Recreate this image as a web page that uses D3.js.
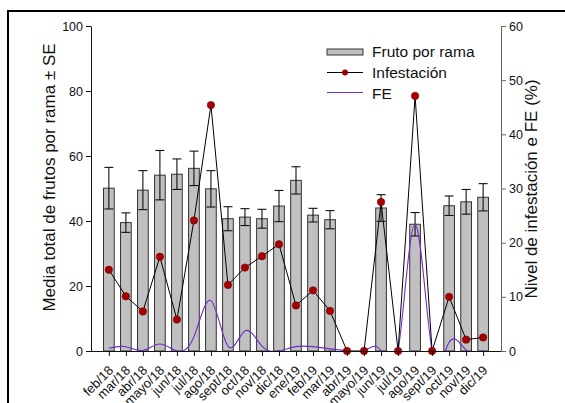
<!DOCTYPE html>
<html>
<head>
<meta charset="utf-8">
<script src="https://cdn.jsdelivr.net/npm/d3@7"></script>
<style>
  html, body { margin: 0; padding: 0; background: #fff; }
  svg { display: block; font-family: "Liberation Sans", Arial, sans-serif; }
</style>
</head>
<body>
<svg id="chart" width="565" height="403"></svg>
<script>
// Monthly sampling dates
const months = ["feb/18","mar/18","abr/18","mayo/18","jun/18","jul/18","ago/18","sept/18","oct/18","nov/18","dic/18",
                "ene/19","feb/19","mar/19","abr/19","mayo/19","jun/19","jul/19","ago/19","sept/19","oct/19","nov/19","dic/19"];
// Mean fruits per branch (left axis) and standard error
const fruto = [50.1,39.5,49.5,54.1,54.4,56.2,49.9,40.7,41.2,40.7,44.6,52.5,41.8,40.4,null,null,44.0,null,39.0,null,44.7,45.9,47.3];
const frutoSE = [6.4,3.0,6.0,7.6,4.7,5.3,5.6,3.7,2.6,2.9,4.8,4.2,2.1,2.8,null,null,4.1,null,3.6,null,3.0,3.8,4.2];
// Infestation level, % (right axis)
const infestacion = [15.0,10.1,7.3,17.4,5.8,24.1,45.4,12.2,15.4,17.5,19.7,8.4,11.2,7.4,0,0,27.5,0,47.1,0,10.0,2.1,2.5];
// FE, % (right axis)
const fe = [0.5,0.8,0.1,1.3,0,2.6,9.3,0.9,3.7,0.9,0,0.8,0.8,0.4,0,0,0,0,23.4,0,1.6,0.2,0.1];
const leftTicks = [0,20,40,60,80,100];
const rightTicks = [0,10,20,30,40,50,60];

const svg = d3.select("#chart");
const X0 = 91, X1 = 501, Y0 = 351, Y1 = 26;

const x = d3.scalePoint().domain(months).range([X0, X1]).padding(1.05);
const yL = d3.scaleLinear().domain([0, 100]).range([Y0, Y1]);
const yR = d3.scaleLinear().domain([0, 60]).range([Y0, Y1]);

// outer frame
svg.append("path").attr("d", `M8,403 V11 H565`).attr("fill", "none").attr("stroke", "#000").attr("stroke-width", 2);

svg.append("clipPath").attr("id", "plotClip")
  .append("rect").attr("x", X0).attr("y", 0).attr("width", X1 - X0).attr("height", Y0);

const barW = 10.7;
const rows = months.map((m, i) => ({ m, v: fruto[i], se: frutoSE[i], inf: infestacion[i], fe: fe[i] }));
const barRows = rows.filter(d => d.v != null);

// bars
svg.append("g").selectAll("rect").data(barRows).join("rect")
  .attr("x", d => x(d.m) - barW / 2)
  .attr("y", d => yL(d.v))
  .attr("width", barW)
  .attr("height", d => Y0 - yL(d.v))
  .attr("fill", "#c0c0c0")
  .attr("stroke", "#333")
  .attr("stroke-width", 1);

// error bars
const eb = svg.append("g").attr("stroke", "#111").attr("stroke-width", 1.1);
eb.selectAll("line.v").data(barRows).join("line")
  .attr("x1", d => x(d.m)).attr("x2", d => x(d.m))
  .attr("y1", d => yL(d.v - d.se)).attr("y2", d => yL(d.v + d.se));
eb.selectAll("line.t").data(barRows).join("line")
  .attr("x1", d => x(d.m) - 4.5).attr("x2", d => x(d.m) + 4.5)
  .attr("y1", d => yL(d.v + d.se)).attr("y2", d => yL(d.v + d.se));
eb.selectAll("line.b").data(barRows).join("line")
  .attr("x1", d => x(d.m) - 4.5).attr("x2", d => x(d.m) + 4.5)
  .attr("y1", d => yL(d.v - d.se)).attr("y2", d => yL(d.v - d.se));

// FE curve
svg.append("path").datum(rows)
  .attr("clip-path", "url(#plotClip)")
  .attr("d", d3.line().x(d => x(d.m)).y(d => yR(d.fe)).curve(d3.curveNatural))
  .attr("fill", "none").attr("stroke", "#6f2bd0").attr("stroke-width", 1.1);

// infestation line and markers
svg.append("path").datum(rows)
  .attr("d", d3.line().x(d => x(d.m)).y(d => yR(d.inf)))
  .attr("fill", "none").attr("stroke", "#000").attr("stroke-width", 1);
svg.append("g").selectAll("circle").data(rows).join("circle")
  .attr("cx", d => x(d.m)).attr("cy", d => yR(d.inf)).attr("r", 3.7)
  .attr("fill", "#a80000").attr("stroke", "#700000").attr("stroke-width", 0.6);

// axes
const axL = svg.append("g").attr("transform", `translate(${X0},0)`)
  .call(d3.axisLeft(yL).tickValues(leftTicks).tickSize(5).tickSizeOuter(0).tickPadding(3));
const axR = svg.append("g").attr("transform", `translate(${X1},0)`)
  .call(d3.axisRight(yR).tickValues(rightTicks).tickSize(5).tickSizeOuter(0).tickPadding(3));
const axB = svg.append("g").attr("transform", `translate(0,${Y0})`)
  .call(d3.axisBottom(x).tickSize(5).tickSizeOuter(0));
axB.select(".domain").attr("d", `M${X0},0.5H${X1}`);
[axL, axR, axB].forEach(g => {
  g.selectAll("text").attr("font-size", 12.5).attr("fill", "#111").attr("font-family", "Liberation Sans, Arial, sans-serif");
  g.selectAll("line, path").attr("stroke", "#111");
});
axR.selectAll("line, path").attr("stroke", "#666");
axB.selectAll(".tick text")
  .attr("text-anchor", "end").attr("x", 0).attr("y", 0).attr("dy", "0.35em")
  .attr("font-size", 13)
  .attr("transform", "translate(1.5,17) rotate(-45)");

// axis titles
svg.append("text").attr("transform", `translate(55,${(33 + 322) / 2}) rotate(-90)`)
  .attr("text-anchor", "middle").attr("font-size", 17).attr("fill", "#111")
  .text("Media total de frutos por rama ± SE");
svg.append("text").attr("transform", `translate(537,${(60 + 318) / 2}) rotate(-90)`)
  .attr("text-anchor", "middle").attr("font-size", 17).attr("fill", "#111")
  .text("Nivel de infestación e FE (%)");

// legend
const lg = svg.append("g");
lg.append("rect").attr("x", 327).attr("y", 49).attr("width", 36).attr("height", 6)
  .attr("fill", "#c0c0c0").attr("stroke", "#333");
lg.append("text").attr("x", 372).attr("y", 57).attr("font-size", 15.5).attr("fill", "#111").text("Fruto por rama");
lg.append("line").attr("x1", 327).attr("x2", 363).attr("y1", 72.5).attr("y2", 72.5).attr("stroke", "#000");
lg.append("circle").attr("cx", 345).attr("cy", 72.5).attr("r", 2.8).attr("fill", "#a80000").attr("stroke", "#700000").attr("stroke-width", 0.5);
lg.append("text").attr("x", 372).attr("y", 78).attr("font-size", 15.5).attr("fill", "#111").text("Infestación");
lg.append("line").attr("x1", 327).attr("x2", 363).attr("y1", 92.5).attr("y2", 92.5).attr("stroke", "#6f2bd0");
lg.append("text").attr("x", 372).attr("y", 99).attr("font-size", 15.5).attr("fill", "#111").text("FE");
</script>
</body>
</html>
